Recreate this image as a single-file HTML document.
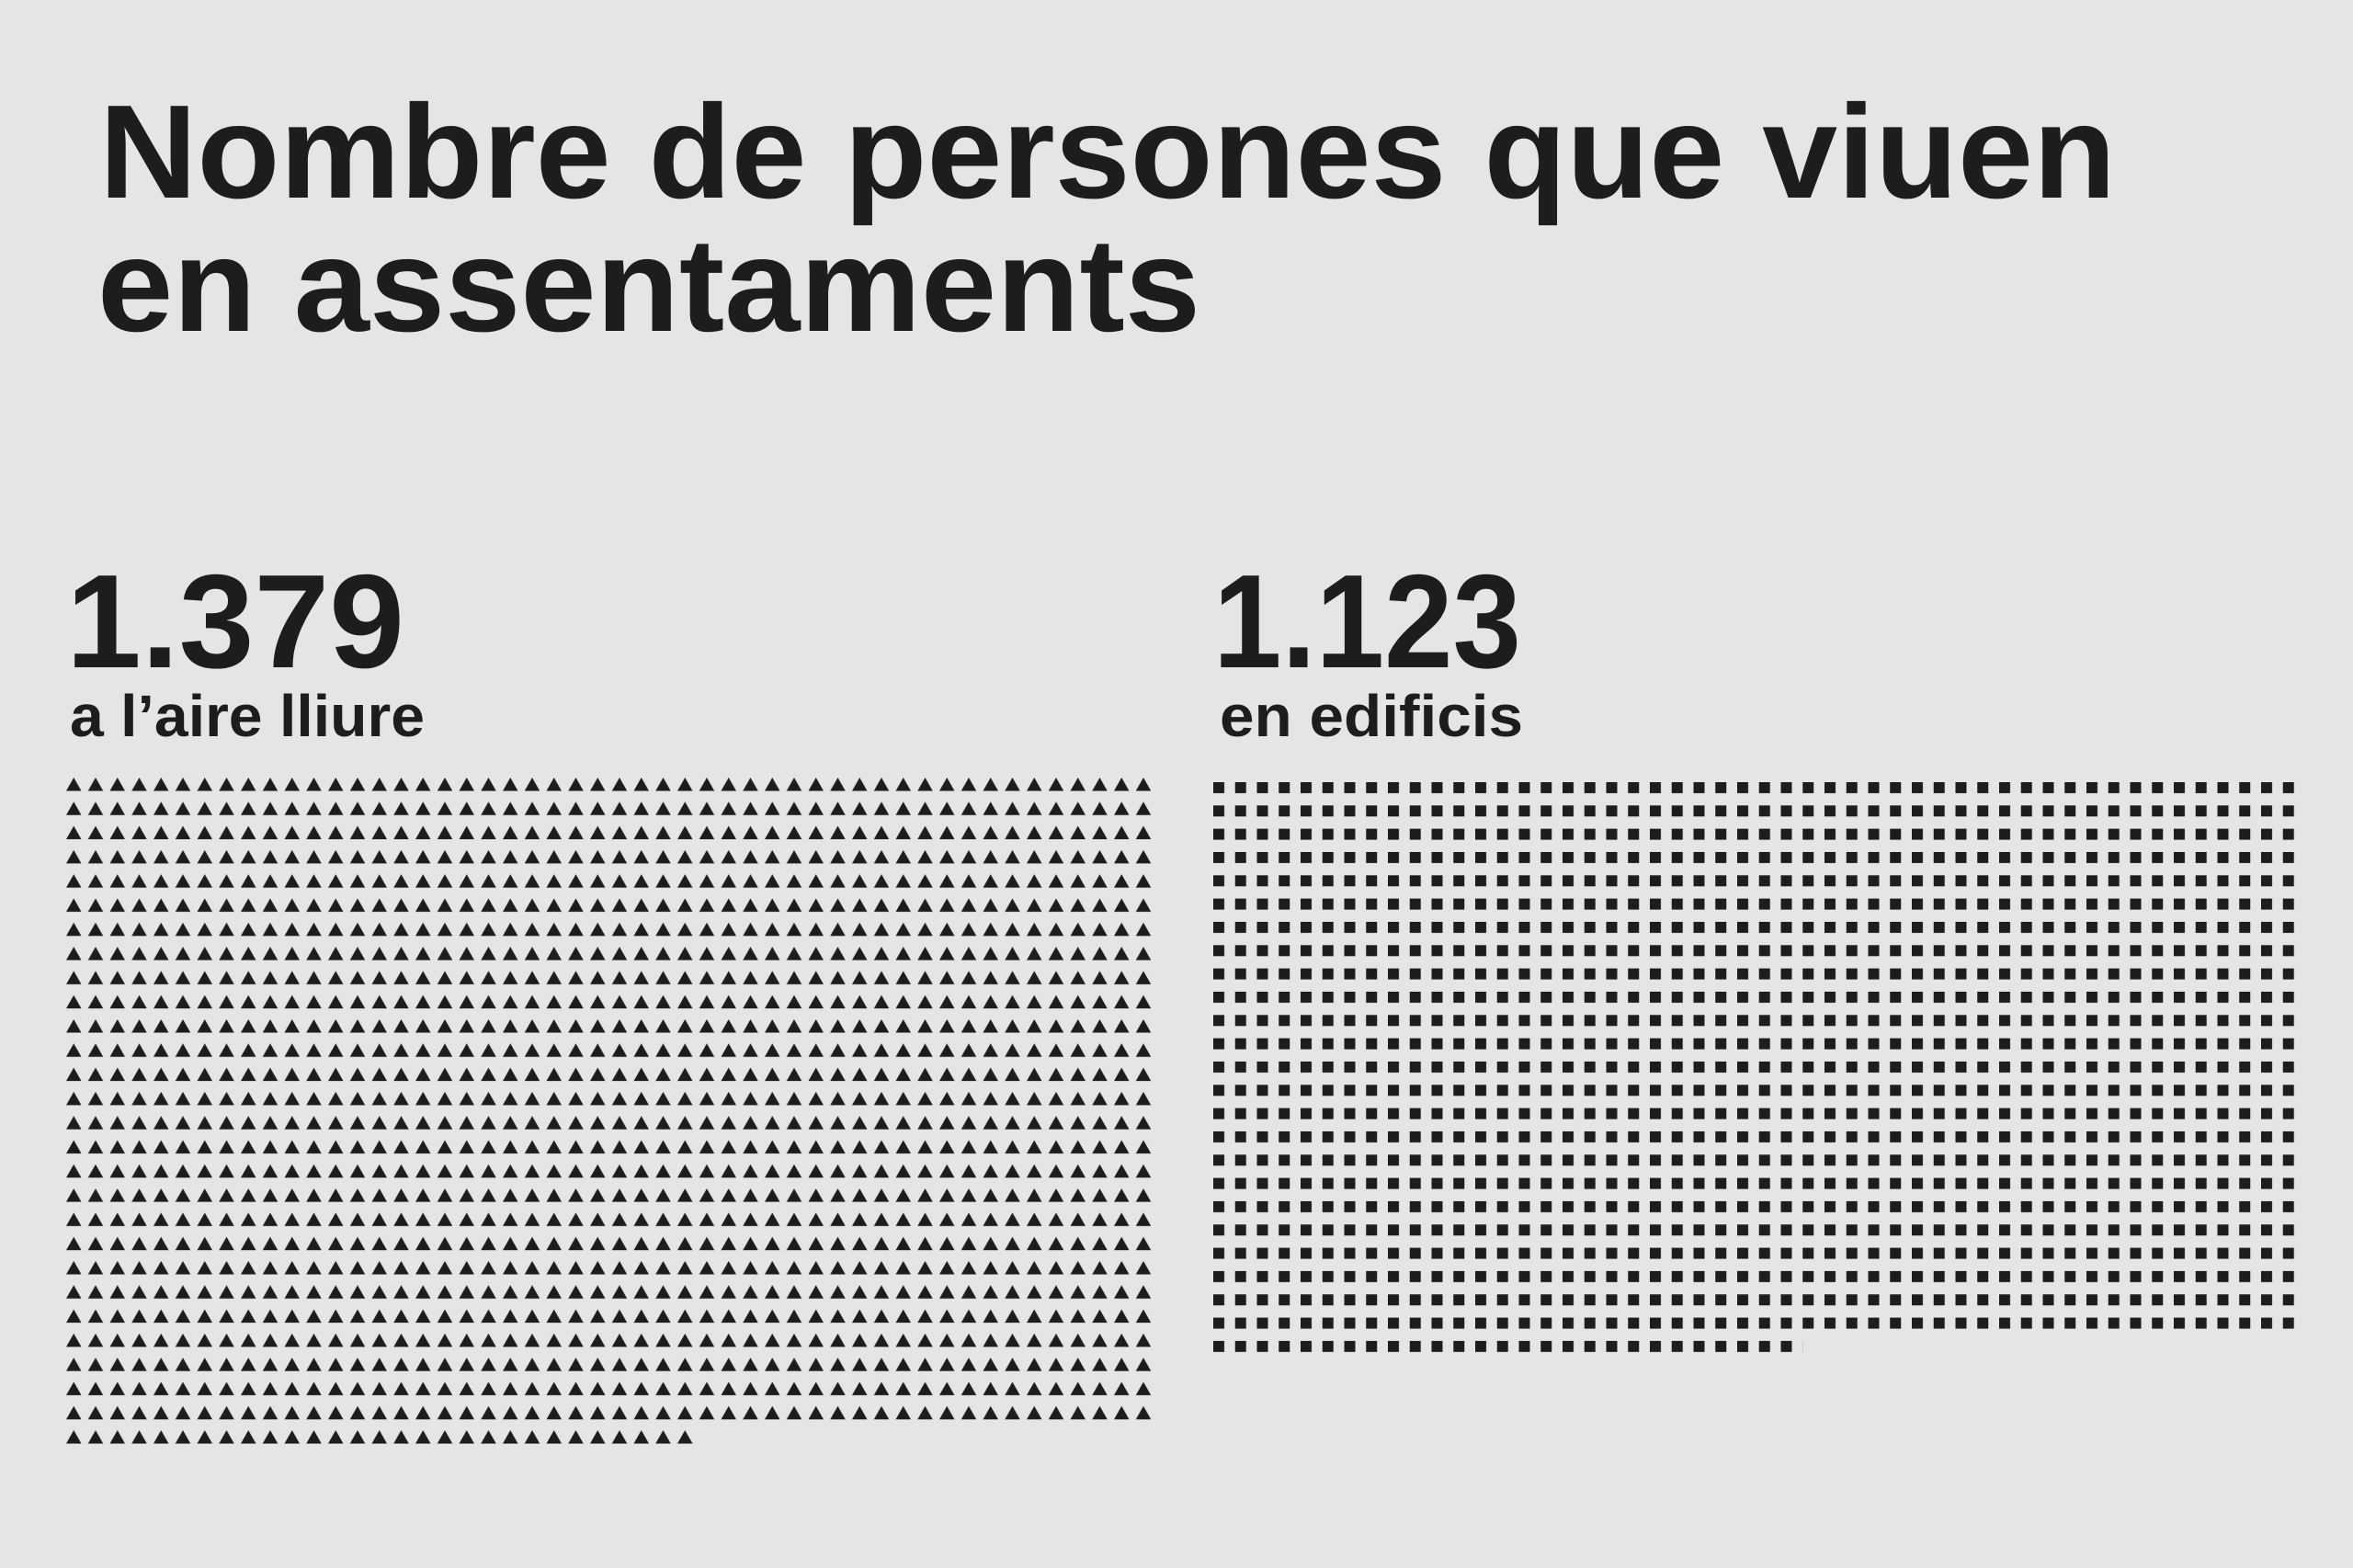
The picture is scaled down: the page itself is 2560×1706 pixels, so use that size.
<!DOCTYPE html>
<html><head><meta charset="utf-8"><style>
html,body{margin:0;padding:0;background:#e5e5e5;}
svg{display:block;}
text{font-family:"Liberation Sans",sans-serif;font-weight:bold;fill:#1d1d1b;}
</style></head><body>
<svg width="2560" height="1706" viewBox="0 0 2560 1706" xmlns="http://www.w3.org/2000/svg">
<defs>
<pattern id="pt" x="72" y="846" width="23.75" height="26.3" patternUnits="userSpaceOnUse">
<path d="M0 14.5L16.5 14.5L8.25 0Z" fill="#1d1d1b"/>
</pattern>
<pattern id="ps" x="1320" y="851" width="23.75" height="25.33" patternUnits="userSpaceOnUse">
<rect x="0" y="0" width="12" height="12" fill="#1d1d1b"/>
</pattern>
</defs>
<rect width="2560" height="1706" fill="#e5e5e5"/>
<text x="108" y="215" font-size="145" textLength="2194" lengthAdjust="spacingAndGlyphs">Nombre de persones que viuen</text>
<text x="106" y="360" font-size="145" textLength="1200" lengthAdjust="spacingAndGlyphs">en assentaments</text>
<text x="72" y="726" font-size="145" textLength="368" lengthAdjust="spacingAndGlyphs">1.379</text>
<text x="1320" y="726" font-size="145" textLength="335" lengthAdjust="spacingAndGlyphs">1.123</text>
<text x="76" y="801" font-size="64" textLength="386" lengthAdjust="spacingAndGlyphs">a l’aire lliure</text>
<text x="1327" y="801" font-size="64" textLength="330" lengthAdjust="spacingAndGlyphs">en edificis</text>
<rect x="72" y="845" width="1187.5" height="708" fill="url(#pt)"/>
<rect x="72" y="1554" width="688.75" height="28" fill="url(#pt)"/>
<rect x="1320" y="850" width="1187.5" height="606" fill="url(#ps)"/>
<rect x="1320" y="1457" width="641.25" height="20" fill="url(#ps)"/>
</svg>
</body></html>
